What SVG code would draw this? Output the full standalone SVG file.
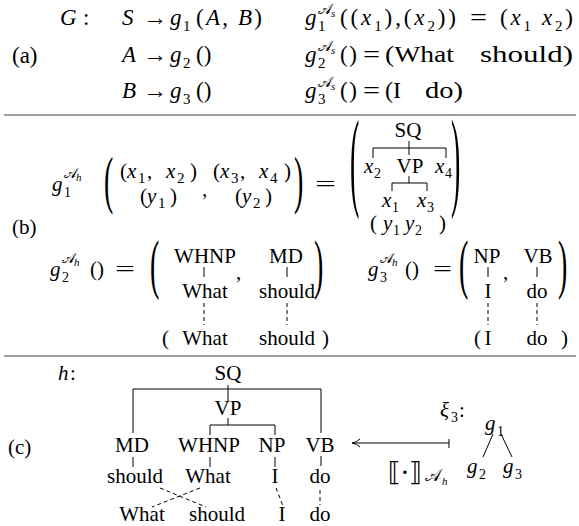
<svg xmlns="http://www.w3.org/2000/svg" width="579" height="526" viewBox="0 0 579 526" font-family="'Liberation Serif', serif">
<style>
text{font-family:'Liberation Serif', serif; fill:#000}
.a{font-size:23px}
.b{font-size:21px}
.i{font-style:italic}
.s{font-size:15px}
.s2{font-size:14px}
.ss{font-size:11px;font-style:italic}
text.cal{font-family:'DejaVu Serif','DejaVu Sans','Noto Sans',serif;font-style:normal}
.c{text-anchor:middle}
.ln{stroke:#000;stroke-width:1;fill:none}
.dash{stroke:#000;stroke-width:1;stroke-dasharray:4 3;fill:none}
.rule{stroke:#a0a0a0;stroke-width:2}
</style>
<defs>
<marker id="ah" viewBox="0 0 10 10" refX="9" refY="5" markerWidth="10" markerHeight="10" orient="auto" markerUnits="userSpaceOnUse">
<path d="M1,1 Q4,4.2 9,5 Q4,5.8 1,9" fill="none" stroke="#000" stroke-width="1"/>
</marker>
</defs>

<g id="rules">
<line class="rule" x1="4" y1="115" x2="576" y2="115"/>
<line class="rule" x1="4" y1="356" x2="576" y2="356"/>
</g>

<!-- (a) -->
<g id="part-a">
<text class="a" x="12" y="63">(a)</text>
<text class="a i" x="60" y="25">G</text><text class="a" x="83" y="25">:</text>
<g id="rule1">
<text class="a i" x="122" y="25">S</text>
<text class="a" x="143" y="25" textLength="24" lengthAdjust="spacingAndGlyphs">→</text>
<text class="a i" x="170" y="25">g</text><text class="s" x="183" y="31">1</text>
<text class="a" x="196" y="25" textLength="66">(<tspan class="i">A</tspan>, <tspan class="i">B</tspan>)</text>
</g>
<g id="rule2">
<text class="a i" x="122" y="62">A</text>
<text class="a" x="143" y="62" textLength="24" lengthAdjust="spacingAndGlyphs">→</text>
<text class="a i" x="170" y="62">g</text><text class="s" x="183" y="68">2</text>
<text class="a" x="196" y="62">()</text>
</g>
<g id="rule3">
<text class="a i" x="122" y="98">B</text>
<text class="a" x="143" y="98" textLength="24" lengthAdjust="spacingAndGlyphs">→</text>
<text class="a i" x="170" y="98">g</text><text class="s" x="183" y="104">3</text>
<text class="a" x="196" y="98">()</text>
</g>
<g id="alg1">
<text class="a i" x="305" y="25">g</text><text class="s" x="318" y="31">1</text>
<text class="s cal" x="318" y="14">𝒜</text><text class="ss" x="331" y="17">s</text>
<text class="a" x="340" y="25" textLength="116">((<tspan class="i">x</tspan><tspan class="s" dy="6">1</tspan><tspan dy="-6">),(</tspan><tspan class="i">x</tspan><tspan class="s" dy="6">2</tspan><tspan dy="-6">))</tspan></text>
<text class="a" x="470" y="25" textLength="17" lengthAdjust="spacingAndGlyphs">=</text>
<text class="a" x="500" y="25" textLength="73">(<tspan class="i">x</tspan><tspan class="s" dy="6">1</tspan><tspan dy="-6"> </tspan><tspan class="i">x</tspan><tspan class="s" dy="6">2</tspan><tspan dy="-6">)</tspan></text>
</g>
<g id="alg2">
<text class="a i" x="305" y="62">g</text><text class="s" x="318" y="68">2</text>
<text class="s cal" x="318" y="51">𝒜</text><text class="ss" x="331" y="54">s</text>
<text class="a" x="340" y="62" textLength="17">()</text>
<text class="a" x="363" y="62" textLength="17" lengthAdjust="spacingAndGlyphs">=</text>
<text style="font-size:24px" x="385" y="62" textLength="69" lengthAdjust="spacingAndGlyphs">(What</text>
<text style="font-size:24px" x="480" y="62" textLength="93" lengthAdjust="spacingAndGlyphs">should)</text>
</g>
<g id="alg3">
<text class="a i" x="305" y="98">g</text><text class="s" x="318" y="104">3</text>
<text class="s cal" x="318" y="87">𝒜</text><text class="ss" x="331" y="90">s</text>
<text class="a" x="340" y="98" textLength="17">()</text>
<text class="a" x="363" y="98" textLength="17" lengthAdjust="spacingAndGlyphs">=</text>
<text style="font-size:24px" x="385" y="98" textLength="16" lengthAdjust="spacingAndGlyphs">(I</text>
<text style="font-size:24px" x="425" y="98" textLength="38" lengthAdjust="spacingAndGlyphs">do)</text>
</g>
</g>

<!-- (b) -->
<g id="part-b">
<text class="b" x="12" y="234">(b)</text>
<g id="g1h">
<text class="b i" x="52" y="191">g</text><text class="s2" x="64" y="197">1</text>
<text class="s2 cal" x="64" y="178">𝒜</text><text class="ss" x="76" y="181">h</text>
<text style="font-size:28px" transform="translate(104,200.6) scale(1,2.3)">(</text>
<text class="b" y="178"><tspan x="120">(</tspan><tspan x="127" class="i">x</tspan><tspan x="138" dy="5" class="s">1</tspan><tspan x="147" dy="-5">,</tspan><tspan x="166" class="i">x</tspan><tspan x="177" dy="5" class="s">2</tspan><tspan x="190" dy="-5">)</tspan></text>
<text class="b" y="203"><tspan x="140">(</tspan><tspan x="147" class="i">y</tspan><tspan x="158" dy="5" class="s">1</tspan><tspan x="170" dy="-5">)</tspan></text>
<text class="b" x="202" y="196">,</text>
<text class="b" y="178"><tspan x="213">(</tspan><tspan x="220" class="i">x</tspan><tspan x="231" dy="5" class="s">3</tspan><tspan x="240" dy="-5">,</tspan><tspan x="259" class="i">x</tspan><tspan x="270" dy="5" class="s">4</tspan><tspan x="284" dy="-5">)</tspan></text>
<text class="b" y="203"><tspan x="235">(</tspan><tspan x="242" class="i">y</tspan><tspan x="253" dy="5" class="s">2</tspan><tspan x="265" dy="-5">)</tspan></text>
<text style="font-size:28px" transform="translate(294,200.6) scale(1,2.3)">)</text>
<text class="b" x="315" y="191" textLength="21" lengthAdjust="spacingAndGlyphs">=</text>
<text style="font-size:28px" transform="translate(350,195.8) scale(1,3.9)">(</text>
<text style="font-size:28px" transform="translate(451,195.8) scale(1,3.9)">)</text>
</g>
<g id="tree1">
<text class="b c" x="408" y="137">SQ</text>
<text class="b i" x="364" y="173">x</text><text class="s2" x="374" y="178">2</text>
<text class="b c" x="410" y="173">VP</text>
<text class="b i" x="435" y="173">x</text><text class="s2" x="445" y="178">4</text>
<text class="b i" x="382" y="207">x</text><text class="s2" x="392" y="212">1</text>
<text class="b i" x="417" y="207">x</text><text class="s2" x="427" y="212">3</text>
<text class="b" x="370" y="230">(</text>
<text class="b i" x="383" y="230">y</text><text class="s2" x="393" y="235">1</text>
<text class="b i" x="405" y="230">y</text><text class="s2" x="415" y="235">2</text>
<text class="b" x="439" y="230">)</text>
</g>
<g id="g2h">
<text class="b i" x="50" y="276">g</text><text class="s2" x="62" y="282">2</text>
<text class="s2 cal" x="62" y="263">𝒜</text><text class="ss" x="74" y="266">h</text>
<text class="b" x="90" y="276">()</text>
<text class="b" x="115" y="276" textLength="20" lengthAdjust="spacingAndGlyphs">=</text>
<text style="font-size:28px" transform="translate(150,286.4) scale(1,2.34)">(</text>
<text style="font-size:28px" transform="translate(314,286.4) scale(1,2.34)">)</text>
<text class="b c" x="205" y="263">WHNP</text>
<text class="b" x="236" y="279">,</text>
<text class="b c" x="286" y="263">MD</text>
<text class="b c" x="205" y="298">What</text>
<text class="b c" x="287" y="298">should</text>
<text class="b" x="162" y="345">(</text>
<text class="b c" x="205" y="345">What</text>
<text class="b c" x="287" y="345">should</text>
<text class="b" x="322" y="345">)</text>
</g>
<g id="g3h">
<text class="b i" x="368" y="276">g</text><text class="s2" x="380" y="282">3</text>
<text class="s2 cal" x="380" y="263">𝒜</text><text class="ss" x="392" y="266">h</text>
<text class="b" x="405" y="276">()</text>
<text class="b" x="433" y="276" textLength="19" lengthAdjust="spacingAndGlyphs">=</text>
<text style="font-size:28px" transform="translate(459,286.4) scale(1,2.34)">(</text>
<text style="font-size:28px" transform="translate(558,286.4) scale(1,2.34)">)</text>
<text class="b c" x="487" y="263">NP</text>
<text class="b" x="503" y="279">,</text>
<text class="b c" x="538" y="263">VB</text>
<text class="b c" x="488" y="298">I</text>
<text class="b c" x="537" y="298">do</text>
<text class="b" x="474" y="345">(</text>
<text class="b c" x="488" y="345">I</text>
<text class="b c" x="537" y="345">do</text>
<text class="b" x="561" y="345">)</text>
</g>
</g>

<!-- (c) -->
<g id="part-c">
<text class="b" x="8" y="454">(c)</text>
<text class="b i" x="58" y="380">h</text><text class="b" x="70" y="380">:</text>
<g id="n-SQ"><text class="b c" x="228" y="380">SQ</text></g>
<g id="n-VP"><text class="b c" x="228" y="415">VP</text></g>
<g id="n-MD"><text class="b c" x="132" y="452">MD</text></g>
<g id="n-WHNP"><text class="b c" x="209" y="452">WHNP</text></g>
<g id="n-NP"><text class="b c" x="272" y="452">NP</text></g>
<g id="n-VB"><text class="b c" x="320" y="452">VB</text></g>
<g id="n-should"><text class="b c" x="135" y="483">should</text></g>
<g id="n-What"><text class="b c" x="208" y="483">What</text></g>
<g id="n-I"><text class="b c" x="275" y="483">I</text></g>
<g id="n-do"><text class="b c" x="320" y="483">do</text></g>
<g id="y-What"><text class="b c" x="142" y="521">What</text></g>
<g id="y-should"><text class="b c" x="217" y="521">should</text></g>
<g id="y-I"><text class="b c" x="282" y="521">I</text></g>
<g id="y-do"><text class="b c" x="320" y="521">do</text></g>
<g id="arrow-label"><text class="cal" style="font-size:26px" x="388" y="481">⟦·⟧</text><text class="cal" style="font-size:17px" x="425" y="481">𝒜</text><text class="ss" x="442" y="485">h</text></g>
<g id="xi3"><text class="b i" x="440" y="417">ξ</text><text class="s2" x="451" y="422">3</text><text class="b" x="459" y="417">:</text></g>
<g id="n-g1"><text class="b i" x="485" y="430">g</text><text class="s2" x="497" y="436">1</text></g>
<g id="n-g2"><text class="b i" x="467" y="473">g</text><text class="s2" x="479" y="479">2</text></g>
<g id="n-g3"><text class="b i" x="503" y="473">g</text><text class="s2" x="515" y="479">3</text></g>
</g>

<g id="connectors">
<path class="ln" d="M409,141 V155 M373,158 V148 H446 V158"/>
<path class="ln" d="M409,176 V183 M392,191 V183 H427 V191"/>
<path class="ln" d="M204,267 V277 M287,267 V277 M488,267 V277 M537,267 V277"/>
<path class="dash" d="M204,303 V325 M287,303 V325 M488,303 V325 M537,303 V325"/>
<path class="ln" d="M228,385 V402 M133,433 V389 H321 V433"/>
<path class="ln" d="M228,418 V425 M210,435 V425 H275 V435"/>
<path class="ln" d="M133,457 V467 M210,457 V467 M275,457 V467 M321,456 V466"/>
<path class="dash" d="M160,488 L206,507 M200,488 L152,507 M276,488 L283,506 M320,490 V505"/>
<path class="ln" d="M493,434 L483,457 M501,434 L512,457"/>
<line class="ln" x1="449" y1="443" x2="352" y2="443" marker-end="url(#ah)"/>
<line class="ln" x1="449" y1="439" x2="449" y2="448"/>
</g>
</svg>
